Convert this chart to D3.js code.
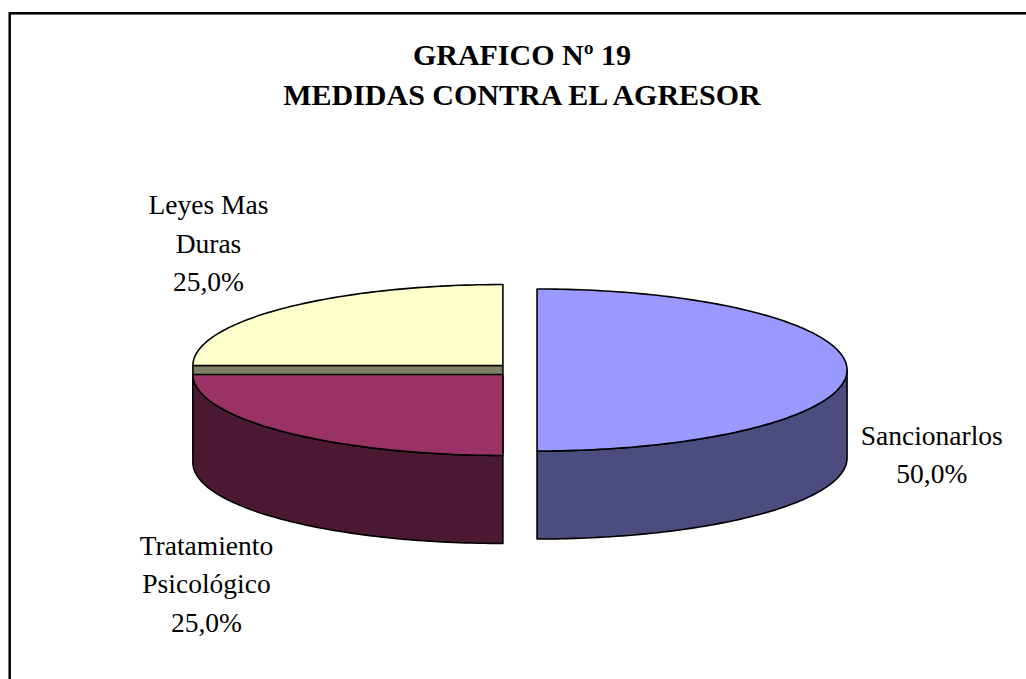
<!DOCTYPE html>
<html>
<head>
<meta charset="utf-8">
<script src="https://cdn.jsdelivr.net/npm/d3@7.9.0/dist/d3.min.js"></script>
<style>
  body { margin: 0; background: #fff; }
  svg { display: block; }
  text { font-family: "Liberation Serif", "Times New Roman", serif; fill: #000; }
</style>
</head>
<body>
<svg id="chart"></svg>
<script>
// data
const categories = ['Sancionarlos', 'Tratamiento Psicológico', 'Leyes Mas Duras'];
const values     = [50, 25, 25];
const labelLines = [['Sancionarlos'], ['Tratamiento', 'Psicológico'], ['Leyes Mas', 'Duras']];
const titleLines = ['GRAFICO Nº 19', 'MEDIDAS CONTRA EL AGRESOR'];

// styles
const topColors  = ['#9999ff', '#993366', '#ffffcc'];
const sideColors = ['#4c4c7f', '#4c1933', '#7f7f66'];
const explode    = [0.055, 0.078, 0.078];
const labelNudge = [[-16, 41], [-11, 0], [-9, 0]];

const W = 1026, H = 679;
const cx = 520, cy = 370;
const rx = 310, ry = 81, depth = 88;

const svg = d3.select('#chart').attr('width', W).attr('height', H);

svg.append('rect')
   .attr('x', 9.7).attr('y', 13.3)
   .attr('width', W + 40).attr('height', H + 40)
   .attr('fill', '#fff').attr('stroke', '#000').attr('stroke-width', 2.5);

svg.selectAll('text.title')
   .data(titleLines)
   .join('text')
   .attr('class', 'title')
   .attr('x', 522)
   .attr('y', (_, i) => 65 + i * 40)
   .attr('text-anchor', 'middle')
   .attr('font-weight', 'bold')
   .attr('font-size', 30)
   .text(d => d);

const data = categories.map((c, i) => ({ name: c, value: values[i], i }));
const arcs = d3.pie().sort(null).value(d => d.value)
               .startAngle(0).endAngle(2 * Math.PI)(data);

const fmt = d3.formatLocale({ decimal: ',', thousands: '.', grouping: [3], currency: ['', ''] })
              .format('.1%');
const total = d3.sum(values);

const line = d3.line().curve(d3.curveLinearClosed);
const rim  = (x, y, a) => [x + rx * Math.sin(a), y - ry * Math.cos(a)];
const arcPts = (x, y, a0, a1) => {
  const n = Math.max(2, Math.ceil((a1 - a0) / 0.02));
  return d3.range(n + 1).map(k => rim(x, y, a0 + (a1 - a0) * k / n));
};

// back to front
const order = arcs.slice().sort((a, b) =>
  -Math.cos((a.startAngle + a.endAngle) / 2) + Math.cos((b.startAngle + b.endAngle) / 2));

const g = svg.append('g')
             .attr('stroke', '#000')
             .attr('stroke-width', 1.6)
             .attr('stroke-linejoin', 'round');

order.forEach(d => {
  const i = d.data.i;
  const a0 = d.startAngle, a1 = d.endAngle, mid = (a0 + a1) / 2;
  const x = cx + explode[i] * rx * Math.sin(mid);
  const y = cy - explode[i] * ry * Math.cos(mid);
  const slice = g.append('g');

  // radial cut faces
  const cut = a => [[x, y], rim(x, y, a), rim(x, y + depth, a), [x, y + depth]];
  if (Math.sin(a0) < -1e-6) slice.append('path').attr('d', line(cut(a0))).attr('fill', sideColors[i]);
  if (Math.sin(a1) >  1e-6) slice.append('path').attr('d', line(cut(a1))).attr('fill', sideColors[i]);

  // outer wall (front half only)
  const s = Math.max(a0, Math.PI / 2), e = Math.min(a1, 3 * Math.PI / 2);
  if (e > s) {
    const pts = arcPts(x, y, s, e).concat(arcPts(x, y + depth, s, e).reverse());
    slice.append('path').attr('d', line(pts)).attr('fill', sideColors[i]);
  }

  // top face
  slice.append('path')
       .attr('d', line([[x, y]].concat(arcPts(x, y, a0, a1))))
       .attr('fill', topColors[i]);
});

// labels
const lh = 38.5;
arcs.forEach(d => {
  const i = d.data.i;
  const mid = (d.startAngle + d.endAngle) / 2;
  const lx = cx + Math.sin(mid) * rx * 1.38 + labelNudge[i][0];
  const ly = cy + depth / 2 - Math.cos(mid) * ry * 2.97 + labelNudge[i][1];
  const lines = labelLines[i].concat([fmt(d.value / total)]);
  const y0 = ly - (lines.length - 1) / 2 * lh + 9;
  svg.append('g').selectAll('text')
     .data(lines)
     .join('text')
     .attr('x', lx)
     .attr('y', (_, k) => y0 + k * lh)
     .attr('text-anchor', 'middle')
     .attr('font-size', 27.5)
     .text(t => t);
});
</script>
</body>
</html>
